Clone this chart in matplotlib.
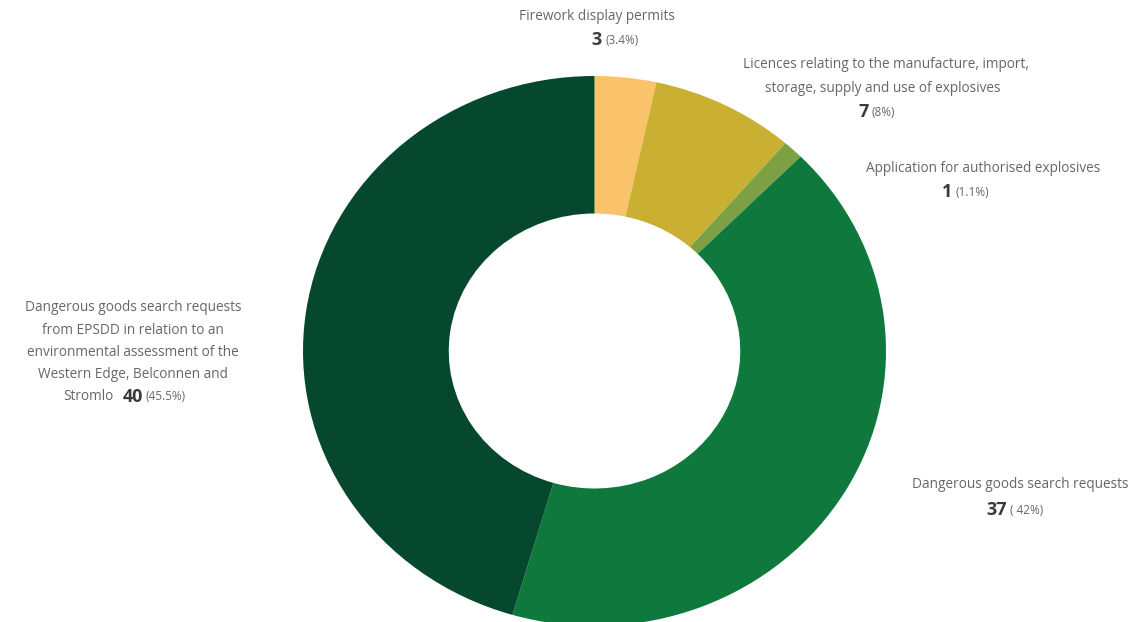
import matplotlib.pyplot as plt

# permit / licence counts, clockwise from 12 o'clock
categories = ['Firework display permits',
              'Licences relating to the manufacture, import,\nstorage, supply and use of explosives',
              'Application for authorised explosives',
              'Dangerous goods search requests',
              'Dangerous goods search requests\nfrom EPSDD in relation to an\nenvironmental assessment of the\nWestern Edge, Belconnen and\nStromlo']
counts = [3, 7, 1, 37, 40]
pct_labels = ['(3.4%)', '(8%)', '(1.1%)', '( 42%)', '(45.5%)']
colors = ['#FAC369', '#C9AF32', '#7DA045', '#0F783C', '#05482D']

W, H = 1144, 622
fig = plt.figure(figsize=(W / 100, H / 100), dpi=100)
ax = fig.add_axes([0, 0, 1, 1])

ax.pie(counts, colors=colors, startangle=90, counterclock=False,
       radius=1.0, wedgeprops=dict(width=0.5, linewidth=0))
ax.set_aspect('auto')
# donut centre sits at (594, 351) px, radii 291 px wide, 275 px tall
cx, cy, rx, ry = 594.5, 351.0, 291.5, 275.0
ax.set_xlim(-cx / rx, (W - cx) / rx)
ax.set_ylim(-(H - cy) / ry, cy / ry)
ax.axis('off')

LBL = '#666666'
NUM = '#3a3a3a'
FONT = 'Open Sans'
SIZE = 9.8


def px(x, y):
    return x / W, 1 - y / H


def txt(x, y, s, ha='center', size=SIZE, color=LBL, weight='normal'):
    fig.text(*px(x, y), s, ha=ha, va='center', fontsize=size, color=color,
             fontweight=weight, family=FONT)


def count_and_pct(split, y, n, pct):
    # bold count ends at split, smaller percentage starts right after it
    txt(split - 1, y, str(n), ha='right', size=13, color=NUM, weight='bold')
    txt(split + 2, y, pct, ha='left', size=8.5)


# Firework
txt(597, 16, categories[0])
count_and_pct(603, 40, counts[0], pct_labels[0])

# Licences
lines = categories[1].split('\n')
txt(886, 65, lines[0])
txt(883, 88, lines[1])
count_and_pct(870, 112, counts[1], pct_labels[1])

# Application
txt(983, 168, categories[2])
count_and_pct(953, 192, counts[2], pct_labels[2])

# Dangerous goods
txt(1020, 485, categories[3])
count_and_pct(1008, 510, counts[3], pct_labels[3])

# EPSDD
lines = categories[4].split('\n')
for i, line in enumerate(lines[:-1]):
    txt(133, 308 + i * 22.2, line)
txt(114, 397, lines[-1], ha='right')
count_and_pct(144, 397, counts[4], pct_labels[4])

fig.savefig('out.png', dpi=100)
